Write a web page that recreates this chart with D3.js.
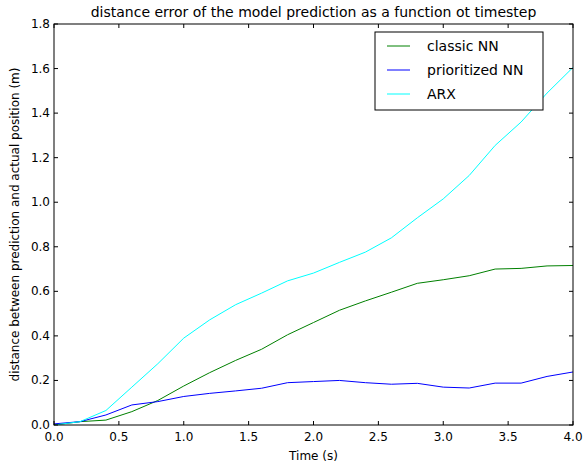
<!DOCTYPE html>
<html><head><meta charset="utf-8">
<script src="https://cdn.jsdelivr.net/npm/d3@7"></script>
<style>body{margin:0;background:#fff}text{font-family:"DejaVu Sans",sans-serif}</style>
</head><body><svg id="c" width="586" height="465"></svg>
<script>
const times = d3.range(21).map(i => i * 0.2);
const classicNN = [0,0.015,0.022,0.06,0.11,0.175,0.235,0.29,0.34,0.405,0.46,0.515,0.557,0.596,0.636,0.652,0.67,0.70,0.703,0.714,0.716];
const prioritizedNN = [0.005,0.015,0.045,0.09,0.105,0.128,0.142,0.153,0.165,0.19,0.195,0.2,0.19,0.183,0.187,0.17,0.166,0.188,0.188,0.218,0.238];
const arx = [0,0.015,0.065,0.17,0.275,0.39,0.472,0.54,0.592,0.647,0.682,0.73,0.776,0.84,0.93,1.015,1.12,1.255,1.36,1.49,1.605];
const series = [
  {name: "classic NN", values: classicNN, color: "#008000"},
  {name: "prioritized NN", values: prioritizedNN, color: "#0000ff"},
  {name: "ARX", values: arx, color: "#00ffff"}
];

const L = 54, R = 573, T = 24, B = 425;
const svg = d3.select("#c");
const x = d3.scaleLinear().domain([0, 4]).range([L, R]);
const y = d3.scaleLinear().domain([0, 1.8]).range([B, T]);

const g = svg.append("g");
const defs = svg.append("defs");
defs.append("clipPath").attr("id", "clip").append("rect")
  .attr("x", L).attr("y", T).attr("width", R - L).attr("height", B - T);

const line = d3.line().x((d, i) => x(times[i])).y(d => y(d));
series.forEach(s => {
  g.append("path").datum(s.values).attr("d", line).attr("clip-path", "url(#clip)")
    .attr("fill", "none").attr("stroke", s.color).attr("stroke-width", 1);
});

// axes with inward ticks on all sides
const xt = d3.range(0, 4.01, 0.5), yt = d3.range(0, 1.81, 0.2);
const ax = svg.append("g").attr("stroke", "#000");
xt.forEach(v => {
  ax.append("line").attr("x1", x(v)).attr("x2", x(v)).attr("y1", B).attr("y2", B - 4);
  ax.append("line").attr("x1", x(v)).attr("x2", x(v)).attr("y1", T).attr("y2", T + 4);
  svg.append("text").attr("x", x(v)).attr("y", B + 16).attr("text-anchor", "middle")
    .attr("font-size", 12).text(v.toFixed(1));
});
yt.forEach(v => {
  ax.append("line").attr("x1", L).attr("x2", L + 4).attr("y1", y(v)).attr("y2", y(v));
  ax.append("line").attr("x1", R).attr("x2", R - 4).attr("y1", y(v)).attr("y2", y(v));
  svg.append("text").attr("x", L - 4).attr("y", y(v) + 4).attr("text-anchor", "end")
    .attr("font-size", 12).text(v.toFixed(1));
});
svg.append("rect").attr("x", L).attr("y", T).attr("width", R - L).attr("height", B - T)
  .attr("fill", "none").attr("stroke", "#000");

svg.append("text").attr("x", (L + R) / 2).attr("y", 17).attr("text-anchor", "middle")
  .attr("font-size", 14).text("distance error of the model prediction as a function ot timestep");
svg.append("text").attr("x", (L + R) / 2).attr("y", 460).attr("text-anchor", "middle")
  .attr("font-size", 12).text("Time (s)");
svg.append("text").attr("transform", `translate(19,${(T + B) / 2}) rotate(-90)`)
  .attr("text-anchor", "middle").attr("font-size", 12)
  .text("distance between prediction and actual position (m)");

// legend
const lg = svg.append("g").attr("transform", "translate(375,32)");
lg.append("rect").attr("width", 168).attr("height", 78).attr("fill", "#fff").attr("stroke", "#000");
series.forEach((s, i) => {
  const yy = 14 + i * 24;
  lg.append("line").attr("x1", 12).attr("x2", 35).attr("y1", yy).attr("y2", yy).attr("stroke", s.color);
  lg.append("text").attr("x", 52).attr("y", yy + 5).attr("font-size", 14).text(s.name);
});
</script></body></html>
